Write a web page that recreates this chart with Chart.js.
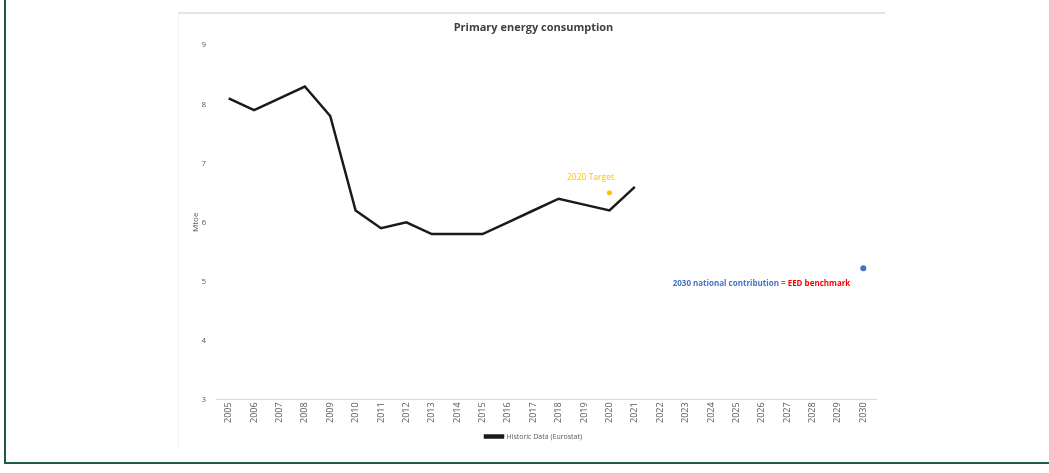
<!DOCTYPE html>
<html>
<head>
<meta charset="utf-8">
<script src="https://cdn.jsdelivr.net/npm/chart.js@4"></script>
<style>
  html, body { margin: 0; padding: 0; background: #fff; }
  #page { position: absolute; left: 4px; top: 0; width: 1045px; height: 462px;
          border-left: 2px solid #1f5a4c; border-bottom: 2px solid #1f5a4c; }
  #box { position: absolute; left: 178px; top: 12px; width: 707px; height: 435px;
         border-top: 2px solid #e4e4e4; border-left: 1px solid #f0f0f0; box-sizing: border-box; }
  canvas { position: absolute; left: 0; top: 0; }
</style>
</head>
<body>
<div id="page"></div>
<div id="box"><canvas id="chart" width="706" height="436"></canvas></div>
<script>
const years = ["2005","2006","2007","2008","2009","2010","2011","2012","2013","2014","2015","2016","2017","2018","2019","2020","2021","2022","2023","2024","2025","2026","2027","2028","2029","2030"];
const historic = [8.1, 7.9, 8.1, 8.3, 7.8, 6.2, 5.9, 6.0, 5.8, 5.8, 5.8, 6.0, 6.2, 6.4, 6.3, 6.2, 6.6, null, null, null, null, null, null, null, null, null];
const target2020 = [null, null, null, null, null, null, null, null, null, null, null, null, null, null, null, 6.5, null, null, null, null, null, null, null, null, null, null];
const contribution2030 = [null, null, null, null, null, null, null, null, null, null, null, null, null, null, null, null, null, null, null, null, null, null, null, null, null, 5.22];
const yTicks = [3, 4, 5, 6, 7, 8, 9];

// text next to the two single points
const pointLabels = {
  id: "pointLabels",
  afterDatasetsDraw(chart) {
    const ctx = chart.ctx;
    const x = chart.scales.x, y = chart.scales.y;
    ctx.save();
    ctx.textBaseline = "middle";

    ctx.font = "8.5px 'Open Sans', sans-serif";
    ctx.fillStyle = "#FFC000";
    ctx.textAlign = "center";
    ctx.fillText("2020 Target", x.getPixelForValue(15) - 19, y.getPixelForValue(6.5) - 15);

    ctx.font = "bold 8px 'Open Sans', sans-serif";
    const px = x.getPixelForValue(25) - 13;
    const py = y.getPixelForValue(5.22) + 15;
    const a = "2030 national contribution";
    const b = " = ";
    const c = "EED benchmark";
    const wa = ctx.measureText(a).width, wb = ctx.measureText(b).width, wc = ctx.measureText(c).width;
    let sx = px - wa - wb - wc;
    ctx.textAlign = "left";
    ctx.fillStyle = "#4472C4"; ctx.fillText(a, sx, py); sx += wa;
    ctx.fillStyle = "#4472C4"; ctx.fillText(b, sx, py); sx += wb;
    ctx.fillStyle = "#FF0000"; ctx.fillText(c, sx, py);
    ctx.restore();
  }
};

new Chart(document.getElementById("chart").getContext("2d"), {
  type: "line",
  data: {
    labels: years,
    datasets: [
      { label: "Historic Data (Eurostat)", data: historic, borderColor: "#1a1a1a", backgroundColor: "#1a1a1a",
        borderWidth: 2.5, pointRadius: 0, tension: 0, spanGaps: false },
      { label: "2020 Target", data: target2020, borderColor: "#FFC000", backgroundColor: "#FFC000",
        showLine: false, pointRadius: 2.5, pointBorderWidth: 0 },
      { label: "2030", data: contribution2030, borderColor: "#4472C4", backgroundColor: "#4472C4",
        showLine: false, pointRadius: 3, pointBorderWidth: 0 }
    ]
  },
  options: {
    responsive: false,
    animation: false,
    layout: { padding: { left: 12, right: 9, top: 0, bottom: 0 } },
    plugins: {
      title: { display: true, text: "Primary energy consumption", color: "#404040",
               font: { family: "'Open Sans', sans-serif", size: 11, weight: "bold" },
               padding: { top: 7, bottom: 11 } },
      legend: { position: "bottom",
                labels: { filter: item => item.datasetIndex === 0, boxWidth: 18, boxHeight: 2,
                          color: "#595959", font: { family: "'Open Sans', sans-serif", size: 7 }, padding: 7 } },
      tooltip: { enabled: false }
    },
    scales: {
      x: {
        offset: true,
        grid: { display: false, drawTicks: false },
        border: { display: true, color: "#d9d9d9", width: 1 },
        ticks: { color: "#595959", font: { family: "'Open Sans', sans-serif", size: 9 },
                 minRotation: 90, maxRotation: 90, autoSkip: false, padding: 3 }
      },
      y: {
        min: 3, max: 9,
        afterBuildTicks: s => { s.ticks = yTicks.map(v => ({ value: v })); },
        afterFit: s => { s.width = 25; },
        grid: { display: false, drawTicks: false },
        border: { display: false },
        title: { display: true, text: "Mtoe", color: "#595959",
                 font: { family: "'Open Sans', sans-serif", size: 8 }, padding: 0 },
        ticks: { color: "#595959", font: { family: "'Open Sans', sans-serif", size: 8 }, padding: 10 }
      }
    }
  },
  plugins: [pointLabels]
});
</script>
</body>
</html>
